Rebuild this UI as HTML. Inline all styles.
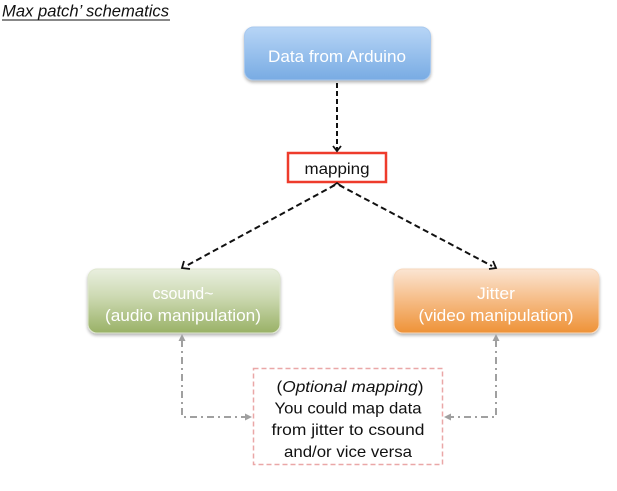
<!DOCTYPE html>
<html><head><meta charset="utf-8"><style>
html,body{margin:0;padding:0;background:#fff;}
svg{display:block;}
text{font-family:"Liberation Sans",sans-serif;}
</style></head><body>
<svg width="617" height="491" viewBox="0 0 617 491" xmlns="http://www.w3.org/2000/svg">
<defs>
<linearGradient id="gb" x1="0" y1="0" x2="0" y2="1"><stop offset="0" stop-color="#b7d5f6"/><stop offset="1" stop-color="#78abe3"/></linearGradient>
<linearGradient id="gg" x1="0" y1="0" x2="0" y2="1"><stop offset="0" stop-color="#e9efdf"/><stop offset="0.45" stop-color="#cbd8b0"/><stop offset="1" stop-color="#99b166"/></linearGradient>
<linearGradient id="go" x1="0" y1="0" x2="0" y2="1"><stop offset="0" stop-color="#fbe5d3"/><stop offset="0.45" stop-color="#f6bf8c"/><stop offset="1" stop-color="#ee9237"/></linearGradient>
<filter id="sh" x="-10%" y="-10%" width="120%" height="130%"><feGaussianBlur in="SourceAlpha" stdDeviation="1.5"/><feOffset dy="2" result="b"/><feComponentTransfer><feFuncA type="linear" slope="0.3"/></feComponentTransfer><feMerge><feMergeNode/><feMergeNode in="SourceGraphic"/></feMerge></filter>
</defs>

<!-- title -->
<text x="2" y="16.5" font-size="17" font-style="italic" fill="#111" textLength="167" lengthAdjust="spacingAndGlyphs">Max patch’ schematics</text>
<line x1="2" y1="20" x2="170" y2="20" stroke="#111" stroke-width="1"/>

<!-- boxes -->
<rect x="244.5" y="27" width="186" height="53" rx="9" fill="url(#gb)" stroke="#a9c9ee" stroke-width="1" filter="url(#sh)"/>
<text x="337" y="62" font-size="17" fill="#fff" text-anchor="middle" textLength="138" lengthAdjust="spacingAndGlyphs">Data from Arduino</text>

<rect x="88" y="269" width="192" height="64" rx="9" fill="url(#gg)" stroke="#dfe7cf" stroke-width="1" filter="url(#sh)"/>
<text x="183" y="299" font-size="17" fill="#fff" text-anchor="middle" textLength="61" lengthAdjust="spacingAndGlyphs">csound~</text>
<text x="183" y="321" font-size="17" fill="#fff" text-anchor="middle" textLength="156" lengthAdjust="spacingAndGlyphs">(audio manipulation)</text>

<rect x="394" y="269" width="205" height="64" rx="9" fill="url(#go)" stroke="#f8d9bd" stroke-width="1" filter="url(#sh)"/>
<text x="496" y="299" font-size="17" fill="#fff" text-anchor="middle" textLength="38" lengthAdjust="spacingAndGlyphs">Jitter</text>
<text x="496" y="321" font-size="17" fill="#fff" text-anchor="middle" textLength="155" lengthAdjust="spacingAndGlyphs">(video manipulation)</text>

<!-- mapping box -->
<rect x="288" y="153" width="98" height="29" fill="#fff" stroke="#ee3b2b" stroke-width="2.5"/>
<text x="337" y="174" font-size="16" fill="#111" text-anchor="middle" textLength="65" lengthAdjust="spacingAndGlyphs">mapping</text>

<!-- black dashed arrows -->
<g stroke="#111" stroke-width="2" fill="none">
<line x1="337" y1="83" x2="337" y2="150" stroke-dasharray="5 3"/>
<polyline points="333,146 337,151 341,146" stroke-width="1.8"/>
<line x1="335" y1="185" x2="186" y2="266" stroke-dasharray="6 3.5"/>
<line x1="339" y1="185" x2="492" y2="266" stroke-dasharray="6 3.5"/>
<polyline points="184,261 182,268 190,269" stroke-width="1.8"/>
<polyline points="489,269 496,268 493,261" stroke-width="1.8"/>
<polyline points="331,187 337,183 343,187" stroke-width="1.6"/>
</g>

<!-- gray dash-dot connectors -->
<g stroke="#a0a0a0" stroke-width="2" fill="none">
<polyline points="182,340 182,417 246,417" stroke-dasharray="7 4 2 4"/>
<polyline points="496,340 496,417 450,417" stroke-dasharray="7 4 2 4"/>
</g>
<g fill="#a0a0a0">
<polygon points="182,334 178.5,341 185.5,341"/>
<polygon points="496,334 492.5,341 499.5,341"/>
<polygon points="252,417 245,413.5 245,420.5"/>
<polygon points="444,417 451,413.5 451,420.5"/>
</g>

<!-- optional mapping box -->
<rect x="253.5" y="368.5" width="189" height="96" fill="#fff" stroke="#eaa7a7" stroke-width="1.5" stroke-dasharray="5 3"/>
<text x="350" y="392" font-size="16" fill="#111" text-anchor="middle" textLength="147" lengthAdjust="spacingAndGlyphs">(<tspan font-style="italic">Optional mapping</tspan>)</text>
<text x="348" y="413.5" font-size="16" fill="#111" text-anchor="middle" textLength="147" lengthAdjust="spacingAndGlyphs">You could map data</text>
<text x="348" y="435" font-size="16" fill="#111" text-anchor="middle" textLength="153" lengthAdjust="spacingAndGlyphs">from jitter to csound</text>
<text x="348" y="457" font-size="16" fill="#111" text-anchor="middle" textLength="128" lengthAdjust="spacingAndGlyphs">and/or vice versa</text>
</svg>
</body></html>
